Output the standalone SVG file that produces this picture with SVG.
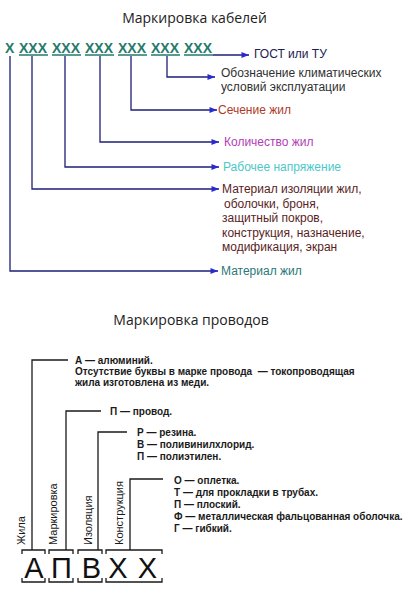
<svg xmlns="http://www.w3.org/2000/svg" width="414" height="600" viewBox="0 0 414 600">
<defs>
<marker id="arr" viewBox="0 0 10 8" refX="10" refY="4" markerWidth="9" markerHeight="6" markerUnits="userSpaceOnUse" orient="auto">
<path d="M0,0 L10,4 L0,8 z" fill="#2a2ad0"/>
</marker>
<style>
.title{font-family:"Open Sans","Liberation Sans",sans-serif;font-size:14px;fill:#222;text-anchor:middle}
.code{font-family:"Liberation Sans",Arial,sans-serif;font-size:14px;font-weight:bold;fill:#257a6c}
.ul{stroke:#257a6c;stroke-width:1.3;fill:none}
.con{stroke:#1e1e78;stroke-width:1.3;fill:none;marker-end:url(#arr)}
.lbl{font-family:"Liberation Sans",Arial,sans-serif;font-size:12px}
.bl{stroke:#1a1a1a;stroke-width:1.3;fill:none}
.bt{font-family:"Liberation Sans",Arial,sans-serif;font-size:10px;font-weight:bold;fill:#1a1a1a}
.rt{font-family:"Liberation Sans",Arial,sans-serif;font-size:11px;fill:#1a1a1a}
.big{font-family:"Liberation Sans",Arial,sans-serif;font-size:29px;fill:#111;text-anchor:middle}
</style>
</defs>
<rect width="414" height="600" fill="#fff"/>

<!-- Cable marking -->
<text class="title" x="194.5" y="23">Маркировка кабелей</text>

<g id="code">
<text class="code" x="5" y="53">X</text>
<text class="code" x="19" y="53">XXX</text>
<text class="code" x="52" y="53">XXX</text>
<text class="code" x="85" y="53">XXX</text>
<text class="code" x="118" y="53">XXX</text>
<text class="code" x="151" y="53">XXX</text>
<text class="code" x="184" y="53">XXX</text>
<path class="ul" d="M19 55H48M52 55H81M85 55H114M118 55H147M151 55H180M184 55H213"/>
</g>

<g id="connectors-top">
<path class="con" d="M213 55H249"/>
<path class="con" d="M167 56V77H215"/>
<path class="con" d="M131 56V110H217"/>
<path class="con" d="M100 56V142H219"/>
<path class="con" d="M65 56V167H219"/>
<path class="con" d="M32 56V189H219"/>
<path class="con" d="M10 56V271H218"/>
</g>

<g id="gost"><text class="lbl" x="254" y="58" fill="#202050">ГОСТ или ТУ</text></g>
<g id="climate"><text class="lbl" x="221" y="77" fill="#303030">Обозначение климатических<tspan x="221" y="91">условий эксплуатации</tspan></text></g>
<g id="section"><text class="lbl" x="218" y="114" fill="#b03a2a">Сечение жил</text></g>
<g id="count"><text class="lbl" x="224" y="146" fill="#b23cb8">Количество жил</text></g>
<g id="voltage"><text class="lbl" x="223" y="171" fill="#4cc8c8">Рабочее напряжение</text></g>
<g id="insulation"><text class="lbl" x="222" y="193" fill="#5a1e1e">Материал изоляции жил,<tspan x="224" y="207.5">оболочки, броня,</tspan><tspan x="222" y="222">защитный покров,</tspan><tspan x="222" y="236.5">конструкция, назначение,</tspan><tspan x="222" y="251">модификация, экран</tspan></text></g>
<g id="core"><text class="lbl" x="221" y="275" fill="#2a7878">Материал жил</text></g>

<!-- Wire marking -->
<text class="title" x="191" y="325">Маркировка проводов</text>

<g id="connectors-bottom">
<path class="bl" d="M68 360H32V550"/>
<path class="bl" d="M101 411H66V550"/>
<path class="bl" d="M127 432H98V550"/>
<path class="bl" d="M163 479H130V550"/>
</g>

<g id="zhila">
<text class="bt" x="75" y="364" xml:space="preserve">А — алюминий.<tspan x="75" y="375">Отсутствие буквы в марке провода  — токопроводящая</tspan><tspan x="75" y="386">жила изготовлена из меди.</tspan></text>
<text class="rt" transform="translate(25,545) rotate(-90)">Жила</text>
</g>
<g id="markirovka">
<text class="bt" x="110" y="415">П — провод.</text>
<text class="rt" transform="translate(57,545) rotate(-90)">Маркировка</text>
</g>
<g id="izolyaciya">
<text class="bt" x="137" y="436">Р — резина.<tspan x="137" y="448">В — поливинилхлорид.</tspan><tspan x="137" y="460">П — полиэтилен.</tspan></text>
<text class="rt" transform="translate(92,545) rotate(-90)">Изоляция</text>
</g>
<g id="konstrukciya">
<text class="bt" x="174" y="484">О — оплетка.<tspan x="174" y="496">Т — для прокладки в трубах.</tspan><tspan x="174" y="508">П — плоский.</tspan><tspan x="174" y="520">Ф — металлическая фальцованная оболочка.</tspan><tspan x="174" y="532">Г — гибкий.</tspan></text>
<text class="rt" transform="translate(123,545) rotate(-90)">Конструкция</text>
</g>

<g id="letters">
<path class="bl" d="M22 554V550H45V554M49 554V550H73V554M78 554V550H102V554M106 554V550H162V554"/>
<path class="bl" d="M22 578V582H45V578M49 578V582H73V578M78 578V582H102V578M106 578V582H162V578"/>
<text class="big" x="34" y="578">А</text>
<text class="big" x="61.5" y="578">П</text>
<text class="big" x="91.5" y="578">В</text>
<text class="big" x="118" y="578">Х</text>
<text class="big" x="147.5" y="578">Х</text>
</g>
</svg>
